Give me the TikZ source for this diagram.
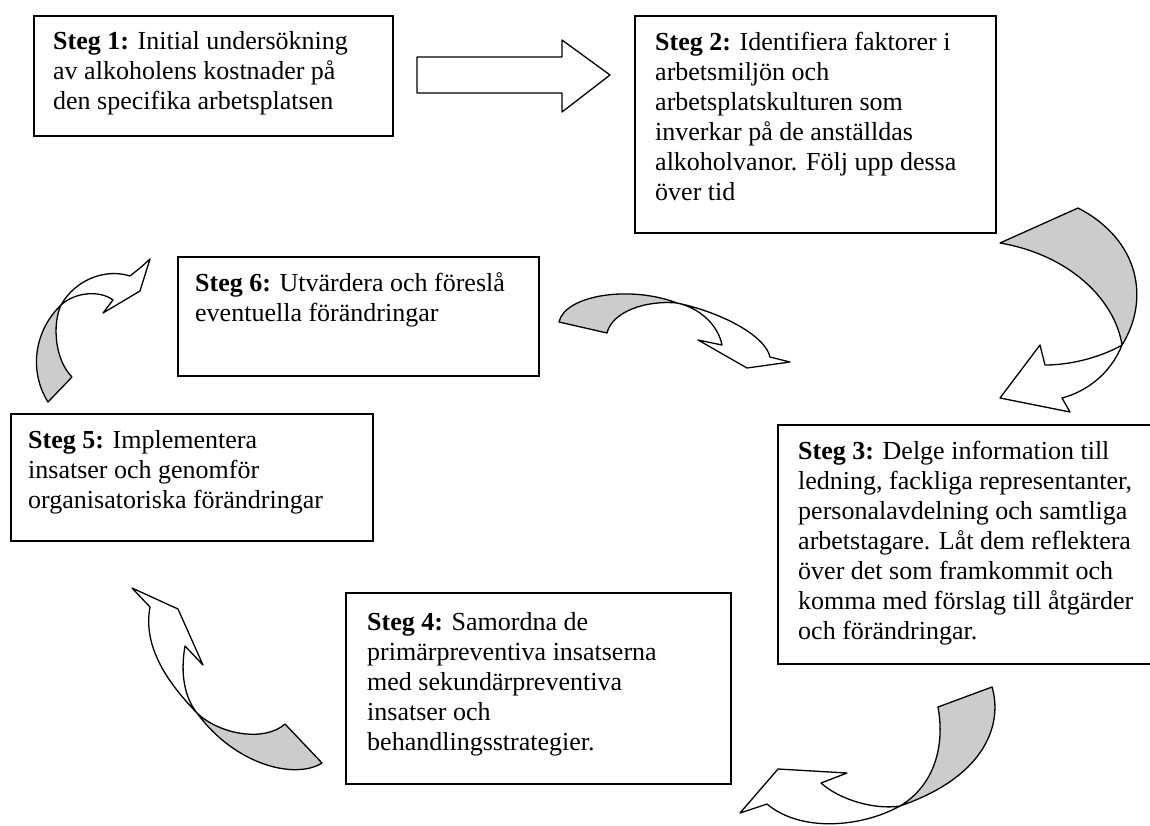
\documentclass[tikz,border=0pt]{standalone}
\usepackage{fontspec}
\setmainfont{Liberation Serif}
\usetikzlibrary{positioning, calc}
\definecolor{bakgra}{HTML}{CCCCCC}

\begin{document}
\begin{tikzpicture}[x=1pt, y=-1pt,
    font=\fontsize{26}{30}\selectfont,
    stepbox/.style={draw, rectangle, line width=1.6pt, anchor=north west, inner sep=0pt},
    steptext/.style={align=left, inner sep=0pt, anchor=north west},
    bandfram/.style={draw, line width=1.3pt, line join=round, fill=white},
    bandbak/.style={draw, line width=1.3pt, line join=round, fill=bakgra}
]
\useasboundingbox (0,0) rectangle (1150,825);

% 1. Rutorna
\node[stepbox, minimum width=359pt, minimum height=120pt] (s1) at (33,15) {};
\node[stepbox, minimum width=361pt, minimum height=217pt] (s2) at (634,15) {};
\node[stepbox, minimum width=380pt, minimum height=239pt] (s3) at (777,424) {};
\node[stepbox, minimum width=385pt, minimum height=191pt] (s4) at (345,592) {};
\node[stepbox, minimum width=362pt, minimum height=127pt] (s5) at (10,413) {};
\node[stepbox, minimum width=361pt, minimum height=119pt] (s6) at (177,256) {};

% 2. Texterna
\node[steptext, below right=16pt and 20pt of s1.north west] (t1)
  {\textbf{Steg 1:} Initial undersökning\\av alkoholens kostnader på\\den specifika arbetsplatsen};
\node[steptext, below right=17pt and 21pt of s2.north west] (t2)
  {\textbf{Steg 2:} Identifiera faktorer i\\arbetsmiljön och\\arbetsplatskulturen som\\inverkar på de anställdas\\alkoholvanor. Följ upp dessa\\över tid};
\node[steptext, below right=17pt and 21pt of s3.north west] (t3)
  {\textbf{Steg 3:} Delge information till\\ledning, fackliga representanter,\\personalavdelning och samtliga\\arbetstagare. Låt dem reflektera\\över det som framkommit och\\komma med förslag till åtgärder\\och förändringar.};
\node[steptext, below right=20pt and 22pt of s4.north west] (t4)
  {\textbf{Steg 4:} Samordna de\\primärpreventiva insatserna\\med sekundärpreventiva\\insatser och\\behandlingsstrategier.};
\node[steptext, below right=17pt and 18pt of s5.north west] (t5)
  {\textbf{Steg 5:} Implementera\\insatser och genomför\\organisatoriska förändringar};
\node[steptext, below right=16pt and 18pt of s6.north west] (t6)
  {\textbf{Steg 6:} Utvärdera och föreslå\\eventuella förändringar};

% 3. Rak pil mellan steg 1 och steg 2
\draw[bandfram] (417,57) -- (562,57) -- (562,40) -- (610,75) -- (562,112) -- (562,93) -- (417,93) -- cycle;

% 4. Böjd pil steg 2 -> steg 3
\draw[bandbak] (1000,243) -- (1078,208) .. controls (1140,240) and (1150,300) .. (1122,345)
  .. controls (1115,300) and (1070,255) .. (1000,243) -- cycle;
\draw[bandfram] (1122,345) .. controls (1110,375) and (1085,392) .. (1062,398) -- (1070,412) -- (1000,398)
  -- (1040,345) -- (1045,365) .. controls (1075,365) and (1105,355) .. (1122,345) -- cycle;

% 5. Böjd pil steg 3 -> steg 4
\draw[bandbak] (938,707) -- (992,687) .. controls (1002,720) and (990,775) .. (900,806)
  .. controls (935,785) and (945,745) .. (938,707) -- cycle;
\draw[bandfram] (900,806) .. controls (875,810) and (840,800) .. (821,783) -- (847,773) -- (778,769)
  -- (740,813) -- (767,804) .. controls (800,832) and (860,828) .. (900,806) -- cycle;

% 6. Böjd pil steg 4 -> steg 5
\draw[bandfram] (132,588) -- (178,609) -- (203,665) -- (185,646) .. controls (180,675) and (185,698) .. (197,713)
  .. controls (165,680) and (143,645) .. (150,607) -- cycle;
\draw[bandbak] (197,713) .. controls (220,735) and (265,742) .. (285,724) -- (322,763)
  .. controls (295,780) and (235,765) .. (197,713) -- cycle;

% 7. Böjd pil steg 5 -> steg 6
\draw[bandbak] (48,402) .. controls (28,370) and (35,330) .. (61,305)
  .. controls (52,325) and (55,360) .. (72,377) -- cycle;
\draw[bandfram] (61,305) .. controls (75,280) and (105,268) .. (130,276) -- (140,268) -- (150,259)
  -- (140,291) -- (103,313) -- (113,300) .. controls (100,290) and (75,292) .. (61,305) -- cycle;

% 8. Böjd pil steg 6 -> steg 3
\draw[bandbak] (559,322) .. controls (565,295) and (630,285) .. (677,303)
  .. controls (645,300) and (612,312) .. (607,333) -- cycle;
\draw[bandfram] (677,303) .. controls (720,312) and (765,335) .. (770,357) -- (790,362) -- (747,368)
  -- (698,340) -- (722,345) .. controls (718,325) and (700,308) .. (677,303) -- cycle;

\end{tikzpicture}
\end{document}
